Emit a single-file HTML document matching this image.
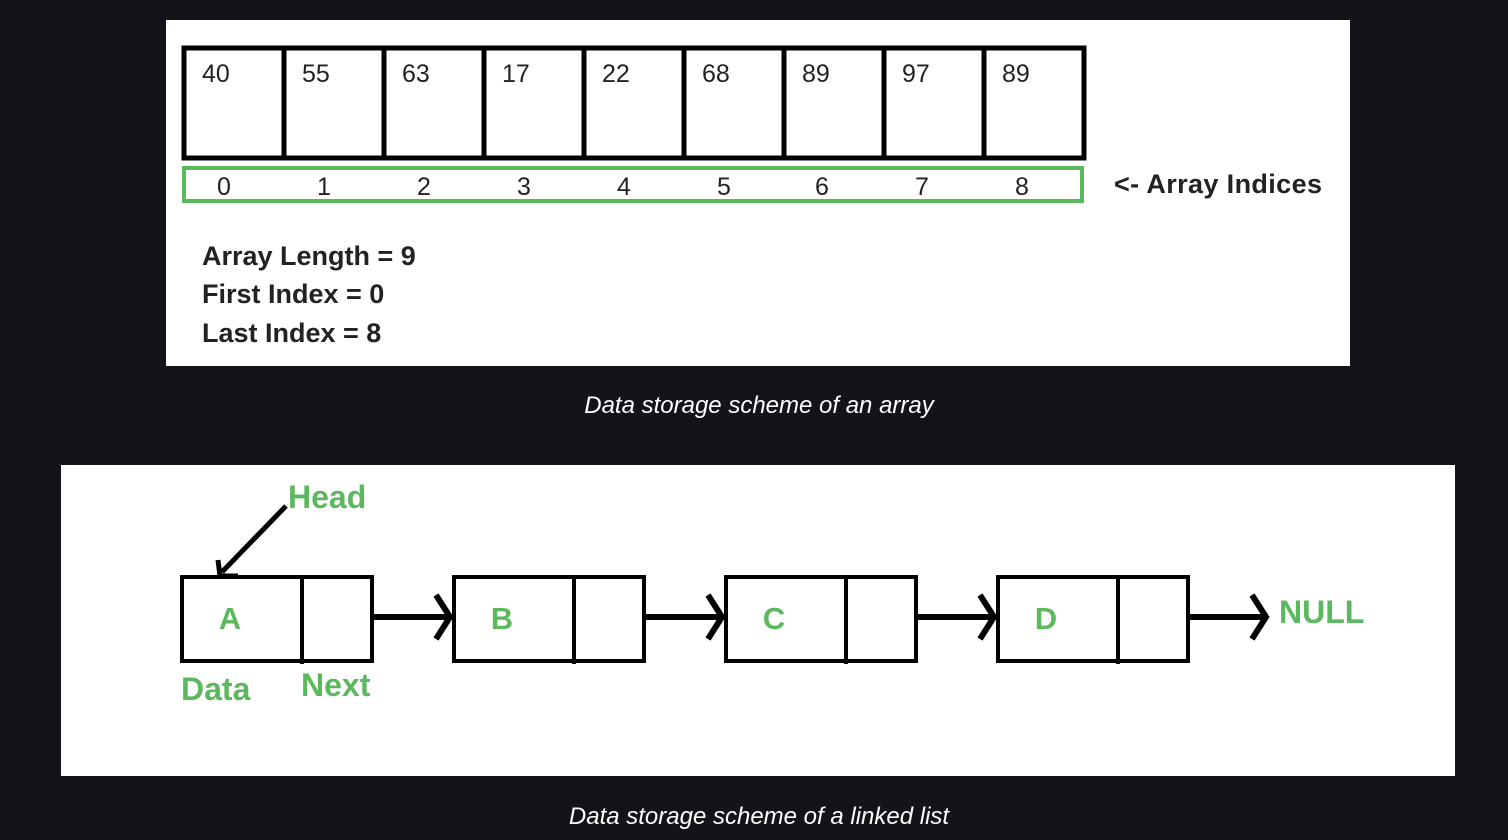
<!DOCTYPE html>
<html><head><meta charset="utf-8"><style>
html,body{margin:0;padding:0;background:#131419;width:1508px;height:840px;overflow:hidden}
svg{display:block}
</style></head><body>
<svg width="1508" height="840" id="svg">
<rect x="166" y="20" width="1184" height="346" fill="#fff"/>
<rect x="61" y="465" width="1394" height="311" fill="#fff"/>
<g id="arr"></g>
<rect x="184" y="168" width="898" height="33" fill="none" stroke="#5cb85c" stroke-width="4"/>
<text x="1114" y="193" font-family="Liberation Sans, sans-serif" font-size="27" font-weight="bold" fill="#222" textLength="208">&lt;- Array Indices</text>
<g font-family="Liberation Sans, sans-serif" font-size="27" font-weight="bold" fill="#222">
<text x="202" y="265">Array Length = 9</text>
<text x="202" y="303">First Index = 0</text>
<text x="202" y="342">Last Index = 8</text>
</g>
<text x="759" y="413" text-anchor="middle" font-family="Liberation Sans, sans-serif" font-style="italic" font-size="24" fill="#fff">Data storage scheme of an array</text>
<g id="ll"></g>
<text x="288" y="508" font-family="Liberation Sans, sans-serif" font-size="32" font-weight="bold" fill="#5cb85c">Head</text>
<path d="M286 506 L222 572 M218 560 L220 576 L238 576" stroke="#000" stroke-width="5" fill="none"/>
<text x="181" y="700" font-family="Liberation Sans, sans-serif" font-size="32" font-weight="bold" fill="#5cb85c">Data</text>
<text x="301" y="696" font-family="Liberation Sans, sans-serif" font-size="32" font-weight="bold" fill="#5cb85c">Next</text>
<text x="1279" y="623" font-family="Liberation Sans, sans-serif" font-size="32" font-weight="bold" fill="#5cb85c">NULL</text>
<text x="759" y="824" text-anchor="middle" font-family="Liberation Sans, sans-serif" font-style="italic" font-size="24" fill="#fff">Data storage scheme of a linked list</text>
</svg>
<script>
const values=[40,55,63,17,22,68,89,97,89];
const indices=[0,1,2,3,4,5,6,7,8];
const nodes=['A','B','C','D'];
const NS='http://www.w3.org/2000/svg';
function mk(tag,attrs,parent){const e=document.createElementNS(NS,tag);for(const k in attrs)e.setAttribute(k,attrs[k]);parent.appendChild(e);return e;}
const arr=document.getElementById('arr');
const x0=184,cw=100;
values.forEach((v,i)=>{
  const x=x0+i*cw;
  const r=mk('rect',{x:x,y:48,width:cw,height:110,fill:'none',stroke:'#000','stroke-width':5},arr);
  
  
  const t=mk('text',{x:x+18,y:82,'font-family':'Liberation Sans, sans-serif','font-size':25,fill:'#222'},arr);
  t.textContent=v;
  
  
});
indices.forEach((d,i)=>{
  const t=mk('text',{x:x0+i*cw+40+(i>=6?-2:0),y:195,'text-anchor':'middle','font-family':'Liberation Sans, sans-serif','font-size':25,fill:'#222'},arr);
  t.textContent=d;
  
  
});
const ll=document.getElementById('ll');
const nx0=182,step=272,nw=190,ny=577,nh=84;
nodes.forEach((n,i)=>{
  const x=nx0+i*step;
  const r=mk('rect',{x:x,y:ny,width:nw,height:nh,fill:'none',stroke:'#000','stroke-width':4},ll);
  
  
  const l=mk('line',{x1:x+120,y1:ny,x2:x+120,y2:ny+nh+3,stroke:'#000','stroke-width':4},ll);
  
  
  const t=mk('text',{x:x+48,y:ny+52,'text-anchor':'middle','font-family':'Liberation Sans, sans-serif','font-size':31,'font-weight':'bold',fill:'#5cb85c'},ll);
  t.textContent=n;
  
  
  const ax=x+nw, ex=x+step-4, ay=ny+40;
  const a=mk('path',{d:`M${ax} ${ay} L${ex} ${ay} M${ex-14} ${ay-22} L${ex} ${ay} L${ex-14} ${ay+22}`,stroke:'#000','stroke-width':6,fill:'none'},ll);
  
  
});
</script>
</body></html>
